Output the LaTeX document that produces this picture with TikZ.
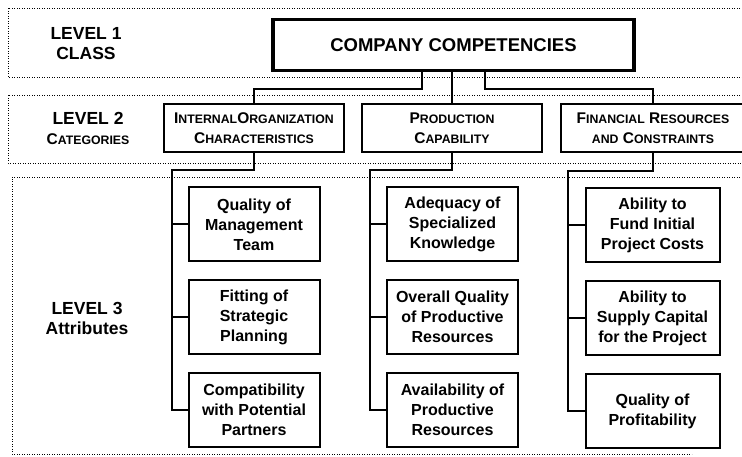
\documentclass[tikz,border=0pt]{standalone}
\usepackage{fontspec}
\setmainfont{Liberation Sans}
\usetikzlibrary{positioning}

% small capitals built from two sizes of capitals
\newcommand\capbig[1]{{\fontsize{15.5}{20}\selectfont #1}}
\newcommand\capsml[1]{{\fontsize{12.3}{20}\selectfont #1}}

\tikzset{
  band/.style={line width=0.9pt, dash pattern=on 0.9pt off 1.6pt},
  classbox/.style={draw, line width=3.6pt, minimum width=361pt, minimum height=51pt,
    inner sep=0pt, font=\bfseries\fontsize{18.5}{22}\selectfont},
  catbox/.style={draw, line width=2.4pt, minimum width=180pt, minimum height=48pt,
    inner sep=0pt, align=center, font=\bfseries\fontsize{15.5}{20}\selectfont},
  attrbox/.style={draw, line width=2pt, minimum width=131pt, minimum height=74pt,
    inner sep=0pt, align=center, font=\bfseries\fontsize{16}{20}\selectfont},
  levellabel/.style={align=center, inner sep=0pt, font=\bfseries\fontsize{17.5}{20}\selectfont},
  conn/.style={line width=2pt, line join=miter},
}

\begin{document}
\begin{tikzpicture}[x=1pt, y=-1pt]
\useasboundingbox (0,0) rectangle (742,457);

% dotted level bands (open on the right)
\draw[band] (745,8) -- (8,8) -- (8,77) -- (745,77);
\draw[band] (745,95) -- (8,95) -- (8,163) -- (745,163);
\draw[band] (745,177) -- (12,177) -- (12,454) -- (692,454);

% level labels
\node[levellabel] (lv1) at (86,44) {LEVEL 1\\CLASS};
\node[levellabel] (lv2) at (88,128) {LEVEL 2\\\capbig{C}\capsml{ATEGORIES}};
\node[levellabel] (lv3) at (87,318) {LEVEL 3\\Attributes};

% level 1
\node[classbox] (comp) at (453.5,45) {COMPANY COMPETENCIES};

% level 2
\node[catbox] (ioc) at (254,128)
  {\capbig{I}\capsml{NTERNAL}\capbig{O}\capsml{RGANIZATION}\\\capbig{C}\capsml{HARACTERISTICS}};
\node[catbox] (prod) at (452,128)
  {\capbig{P}\capsml{RODUCTION}\\\capbig{C}\capsml{APABILITY}};
\node[catbox, minimum width=184pt] (fin) at (653,128)
  {\capbig{F}\capsml{INANCIAL} \capbig{R}\capsml{ESOURCES}\\\capsml{AND} \capbig{C}\capsml{ONSTRAINTS}};

% level 3, first column
\node[attrbox] (a1) at (254,224.5) {Quality of\\Management\\Team};
\node[attrbox] (a2) at (254,317) {Fitting of\\Strategic\\Planning};
\node[attrbox] (a3) at (254,410) {Compatibility\\with Potential\\Partners};

% level 3, second column
\node[attrbox] (b1) at (452.5,224.5) {Adequacy of\\Specialized\\Knowledge};
\node[attrbox] (b2) at (452.5,317) {Overall Quality\\of Productive\\Resources};
\node[attrbox] (b3) at (452.5,410) {Availability of\\Productive\\Resources};

% level 3, third column
\node[attrbox, minimum width=134pt] (c1) at (652.5,225.5) {Ability to\\Fund Initial\\Project Costs};
\node[attrbox, minimum width=134pt] (c2) at (652.5,318) {Ability to\\Supply Capital\\for the Project};
\node[attrbox, minimum width=134pt] (c3) at (652.5,411) {Quality of\\Profitability};

% class to categories
\draw[conn] ([xshift=-31.5pt]comp.south) -- ++(0,16.5) -| (ioc.north);
\draw[conn] (comp.south -| prod.north) -- (prod.north);
\draw[conn] ([xshift=31.5pt]comp.south) -- ++(0,16.5) -| (fin.north);

% categories to attributes
\coordinate (s1) at (172,170);
\coordinate (s2) at (370,170);
\coordinate (s3) at (568,171);

\draw[conn] (ioc.south) |- (s1) |- (a3.west);
\draw[conn] (s1 |- a1.west) -- (a1.west);
\draw[conn] (s1 |- a2.west) -- (a2.west);

\draw[conn] (prod.south) |- (s2) |- (b3.west);
\draw[conn] (s2 |- b1.west) -- (b1.west);
\draw[conn] (s2 |- b2.west) -- (b2.west);

\draw[conn] (fin.south) |- (s3) |- (c3.west);
\draw[conn] (s3 |- c1.west) -- (c1.west);
\draw[conn] (s3 |- c2.west) -- (c2.west);
\end{tikzpicture}
\end{document}
